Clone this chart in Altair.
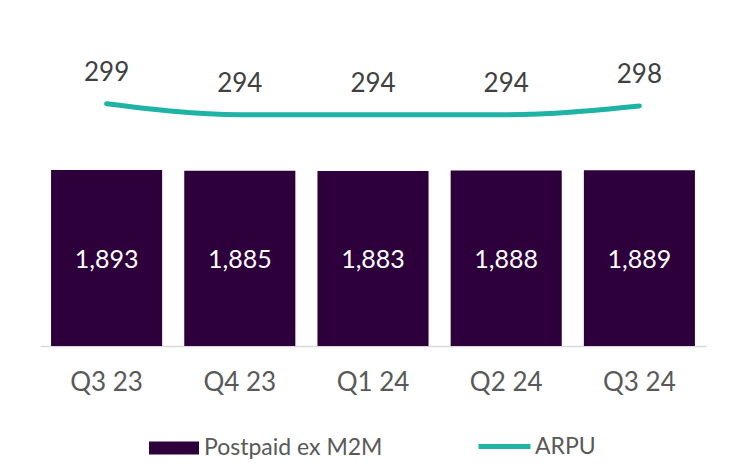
import altair as alt
import pandas as pd

quarters = ["Q3 23", "Q4 23", "Q1 24", "Q2 24", "Q3 24"]
postpaid = [1893, 1885, 1883, 1888, 1889]
arpu = [299, 294, 294, 294, 298]

df = pd.DataFrame({"q": quarters, "postpaid": postpaid, "arpu": arpu,
                   "bar_series": ["Postpaid ex M2M"] * 5, "line_series": ["ARPU"] * 5})

FONT = "Lato"
BAR = "#2e003b"
TEAL = "#1fb3a5"

x = alt.X("q:N", sort=quarters, title=None,
          scale=alt.Scale(paddingInner=0.166, paddingOuter=0.083),
          axis=alt.Axis(labelAngle=0, labelFontSize=26, labelColor="#595959", labelFont=FONT,
                        ticks=False, domainColor="#d9d9d9", domainWidth=1.5, labelPadding=23))

ybar = alt.Scale(domain=[0, 3506], nice=False, zero=True)
yline = alt.Scale(domain=[189, 337], nice=False, zero=False)

bars = alt.Chart(df).mark_bar(color=BAR).encode(
    x=x,
    y=alt.Y("postpaid:Q", scale=ybar, axis=None),
    fill=alt.Fill("bar_series:N", scale=alt.Scale(domain=["Postpaid ex M2M"], range=[BAR]),
                  legend=alt.Legend(title=None, orient="none", legendX=109, legendY=403,
                                    symbolType="M-1,-0.26H1V0.26H-1Z", symbolSize=2500,
                                    symbolStrokeWidth=0, labelFontSize=23, labelFont=FONT,
                                    labelColor="#595959", labelLimit=400, labelOffset=5)),
)

bar_text = alt.Chart(df).transform_calculate(mid="datum.postpaid / 2").mark_text(
    color="white", fontSize=25, font=FONT, baseline="middle", dy=2
).encode(
    x=alt.X("q:N", sort=quarters),
    y=alt.Y("mid:Q", scale=ybar, axis=None),
    text=alt.Text("postpaid:Q", format=","),
)

line = alt.Chart(df).mark_line(strokeWidth=5, interpolate="monotone", strokeCap="round").encode(
    x=alt.X("q:N", sort=quarters),
    y=alt.Y("arpu:Q", scale=yline, axis=None),
    stroke=alt.Stroke("line_series:N", scale=alt.Scale(domain=["ARPU"], range=[TEAL]),
                      legend=alt.Legend(title=None, orient="none", legendX=436, legendY=398,
                                        symbolType="stroke", symbolSize=2700, symbolStrokeWidth=5,
                                        labelFontSize=23, labelFont=FONT, labelColor="#595959",
                                        labelLimit=400, labelOffset=2)),
)

line_text = alt.Chart(df).mark_text(
    color="#404040", fontSize=26, font=FONT, dy=-31, baseline="middle"
).encode(
    x=alt.X("q:N", sort=quarters),
    y=alt.Y("arpu:Q", scale=yline, axis=None),
    text=alt.Text("arpu:Q"),
)

left = alt.layer(bars, bar_text)
right = alt.layer(line, line_text)

chart = alt.layer(left, right).resolve_scale(y="independent", fill="independent", stroke="independent").properties(
    width=666, height=326,
    padding={"left": 32, "top": 12, "right": 10, "bottom": 5},
    background="white",
).configure_view(stroke=None)

chart.save("out.html", embed_options={"renderer": "svg", "actions": False})
